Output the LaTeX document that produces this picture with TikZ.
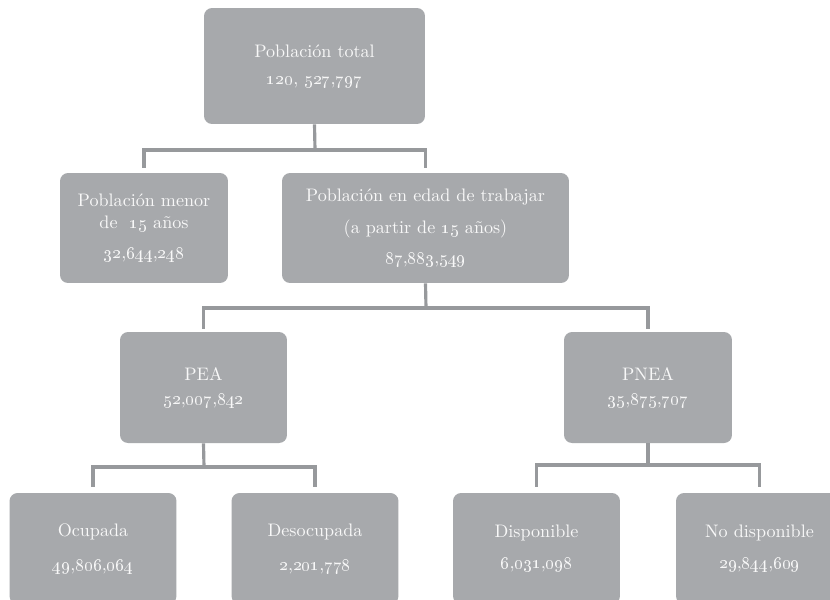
\documentclass[tikz,border=0pt]{standalone}

\definecolor{boxgray}{HTML}{A7A9AC}
\definecolor{linegray}{HTML}{97999C}
\definecolor{boxtext}{HTML}{F8F8F8}
\newcommand{\osn}[1]{\oldstylenums{#1}}

\begin{document}
\begin{tikzpicture}[x=0.02cm, y=-0.02cm,
  box/.style={rectangle, fill=boxgray, rounded corners=0.16cm, text=boxtext, align=center,
              inner sep=0pt, minimum width=3.34cm, minimum height=2.22cm, font=\fontsize{10.3}{12.4}\selectfont},
  conn/.style={draw=linegray, line width=1.8pt}]

\clip (0,0) rectangle (830,599);
\fill[white] (0,0) rectangle (830,599);

% Level 0
\node[box, minimum width=4.42cm, minimum height=2.32cm] (tot) at (314.5,66)
  {Población total\\[3pt]\osn{120}, \osn{527},\osn{797}};

% Level 1
\node[box, minimum width=3.36cm, minimum height=2.2cm] (menor) at (144,228)
  {Población menor\\de \ \osn{15} años\\[4.5pt]\osn{32},\osn{644},\osn{248}};
\node[box, minimum width=5.74cm, minimum height=2.2cm] (edad) at (425.5,228)
  {Población en edad de trabajar\\[5.5pt](a partir de \osn{15} años)\\[5pt]\osn{87},\osn{883},\osn{549}};

% Level 2
\node[box] (pea) at (203.5,387.5) {PEA\\[1pt]\osn{52},\osn{007},\osn{842}};
\node[box, minimum width=3.36cm] (pnea) at (648,387.5) {PNEA\\[1pt]\osn{35},\osn{875},\osn{707}};

% Level 3
\node[box] (ocu) at (93,548.5) {Ocupada\\[7pt]\osn{49},\osn{806},\osn{064}};
\node[box] (deso) at (315,548.5) {Desocupada\\[7pt]\osn{2},\osn{201},\osn{778}};
\node[box] (disp) at (536.5,548.5) {Disponible\\[5pt]\osn{6},\osn{031},\osn{098}};
\node[box] (nodisp) at (759.5,548.5) {No disponible\\[5pt]\osn{29},\osn{844},\osn{609}};

% Junctions
\coordinate (j1) at (315,150);
\coordinate (j2) at (426,308);
\coordinate (j3) at (204,467);
\coordinate (j4) at (648,465);

% Connectors
\draw[conn] (tot.south) -- (j1);
\draw[conn, shorten >=0.1cm] (j1) -| (menor.north);
\draw[conn, shorten >=0.1cm] (j1) -| (edad.north);

\draw[conn] (edad.south) -- (j2);
\draw[conn, shorten >=0.06cm] (j2) -| (pea.north);
\draw[conn, shorten >=0.06cm] (j2) -| (pnea.north);

\draw[conn] (pea.south) -- (j3);
\draw[conn, shorten >=0.12cm] (j3) -| (ocu.north);
\draw[conn, shorten >=0.12cm] (j3) -| (deso.north);

\draw[conn] (pnea.south) -- (j4);
\draw[conn, shorten >=0.12cm] (j4) -| (disp.north);
\draw[conn, shorten >=0.12cm] (j4) -| (nodisp.north);

\end{tikzpicture}
\end{document}
